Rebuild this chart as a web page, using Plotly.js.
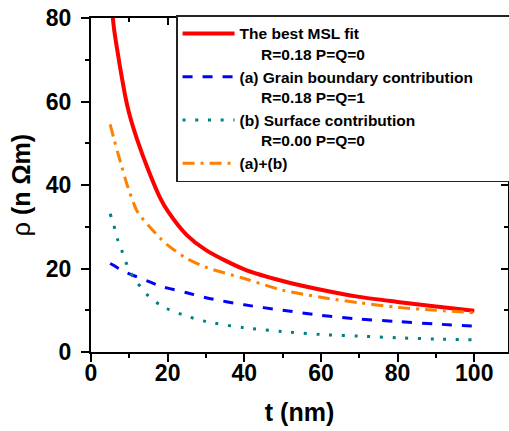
<!DOCTYPE html>
<html>
<head>
<meta charset="utf-8">
<script src="https://cdn.plot.ly/plotly-3.0.1.min.js"></script>
<style>html,body{margin:0;padding:0;background:#fff;}#chart{width:509px;height:431px;}</style>
</head>
<body>
<div id="chart"></div>
<script>
// thickness t (nm)
const thickness = [5, 6, 7, 8, 9, 10, 12, 15, 18, 20, 25, 30, 40, 50, 60, 70, 80, 90, 100];
// resistivity rho (n Ohm m)
const bestFit   = [87, 77.5, 71.5, 66, 61, 57, 51, 43.5, 37, 33.8, 28.0, 24.4, 19.8, 17.0, 14.9, 13.2, 12.0, 10.9, 9.9];
const grainBoundary = [21.2, 20.7, 20.1, 19.6, 19.1, 18.7, 18.0, 16.9, 15.8, 15.3, 14.2, 13.0, 11.3, 10.0, 8.8, 7.9, 7.3, 6.7, 6.2];
const surface   = [33.1, 30.2, 26.8, 24.4, 21.8, 19.5, 16.7, 13.4, 11.3, 10.3, 8.6, 7.3, 5.8, 4.9, 4.2, 3.8, 3.4, 3.1, 2.9];
const sumAB     = [54.5, 51, 47.7, 44.5, 41.3, 38.5, 33.8, 30.3, 27.3, 25.6, 22.4, 20.3, 17.6, 14.8, 13.1, 11.8, 10.7, 10.0, 9.4];

const names = [
  'The best MSL fit<br>    R=0.18 P=Q=0',
  '(a) Grain boundary contribution    <br>    R=0.18 P=Q=1',
  '(b) Surface contribution<br>    R=0.00 P=Q=0',
  '(a)+(b)'
];
const xTicks = [0, 20, 40, 60, 80, 100];
const yTicks = [0, 20, 40, 60, 80];

const nb = s => s.replace(/ {4}</g, '&nbsp;&nbsp;&nbsp;&nbsp;&nbsp;&nbsp;&nbsp;&nbsp;<')
                 .replace(/<br> {4}/g, '<br>&nbsp;&nbsp;&nbsp;&nbsp;&nbsp;');

const traces = [
  {x: thickness, y: bestFit, name: nb(names[0]), mode: 'lines', line: {color: '#ff0000', width: 4, shape: 'spline', smoothing: 0.8}},
  {x: thickness, y: grainBoundary, name: nb(names[1]), mode: 'lines', line: {color: '#0000ff', width: 3, dash: '10px,10px', shape: 'spline', smoothing: 0.8}},
  {x: thickness, y: surface, name: nb(names[2]), mode: 'lines', line: {color: '#008080', width: 3, dash: '3px,9.7px', shape: 'spline', smoothing: 0.8}},
  {x: thickness, y: sumAB, name: nb(names[3]), mode: 'lines', line: {color: '#ff8000', width: 3, dash: '12px,6px,3px,6px', shape: 'spline', smoothing: 0.8}},
  {x: [], y: [], xaxis: 'x2', yaxis: 'y2', showlegend: false, hoverinfo: 'skip'},
  {x: [], y: [], xaxis: 'x3', yaxis: 'y', showlegend: false, hoverinfo: 'skip'}
];

const FONT = 'Liberation Sans, Arial, sans-serif';
const xr = [0, 108.8];
const yr = [0, 80];

const tickAxis = (side, dir, extra) => Object.assign({
  side: side, tickvals: xTicks,
  showticklabels: false, showline: true, linewidth: 2, linecolor: '#000', showgrid: false, zeroline: false,
  ticks: dir, ticklen: dir === 'inside' ? 7 : 8, tickwidth: 2, tickcolor: '#000',
  minor: {dtick: 10, tick0: 0, ticks: dir, ticklen: 4, tickwidth: 2, tickcolor: '#000'},
  fixedrange: true
}, extra);

const layout = {
  width: 509, height: 431,
  margin: {l: 91, r: 1, t: 18, b: 79, autoexpand: false},
  paper_bgcolor: '#fff', plot_bgcolor: '#fff',
  showlegend: true,
  font: {family: FONT, color: '#000'},
  // main x axis: line + outside ticks
  xaxis: tickAxis('bottom', 'outside', {range: xr}),
  // overlay x axis: tick labels + title
  xaxis3: {
    overlaying: 'x', anchor: 'y', side: 'bottom', range: xr,
    tickvals: xTicks, ticktext: xTicks.map(String),
    showline: false, showgrid: false, zeroline: false, ticks: '',
    tickfont: {family: FONT, size: 23, weight: 'bold', color: '#000'},
    ticklabelstandoff: 5,
    title: {text: 't (nm)', font: {family: FONT, size: 25, weight: 'bold', color: '#000'}, standoff: 18},
    fixedrange: true
  },
  yaxis: {
    range: yr, tickvals: yTicks, ticktext: yTicks.map(String),
    showline: true, linewidth: 2, linecolor: '#000', showgrid: false, zeroline: false,
    ticks: 'outside', ticklen: 8, tickwidth: 2, tickcolor: '#000',
    minor: {dtick: 10, tick0: 0, ticks: 'outside', ticklen: 4, tickwidth: 2, tickcolor: '#000'},
    tickfont: {family: FONT, size: 23, weight: 'bold', color: '#000'},
    ticklabelstandoff: 5,
    title: {text: 'ρ <b>(n Ωm)</b>', font: {family: FONT, size: 25, color: '#000'}},
    fixedrange: true
  },
  xaxis2: tickAxis('top', 'inside', {overlaying: 'x', anchor: 'y2', range: xr}),
  yaxis2: tickAxis('right', 'inside', {overlaying: 'y', anchor: 'x2', range: yr, tickvals: yTicks}),
  legend: {
    x: 0.204, y: 1.008, xanchor: 'left', yanchor: 'top',
    bgcolor: '#fff', bordercolor: '#222', borderwidth: 1.5,
    font: {family: FONT, size: 15.5, weight: 'bold', color: '#000'},
    valign: 'top', itemwidth: 52, tracegroupgap: 0
  }
};

Plotly.newPlot('chart', traces, layout, {displayModeBar: false, staticPlot: true});
</script>
</body>
</html>
